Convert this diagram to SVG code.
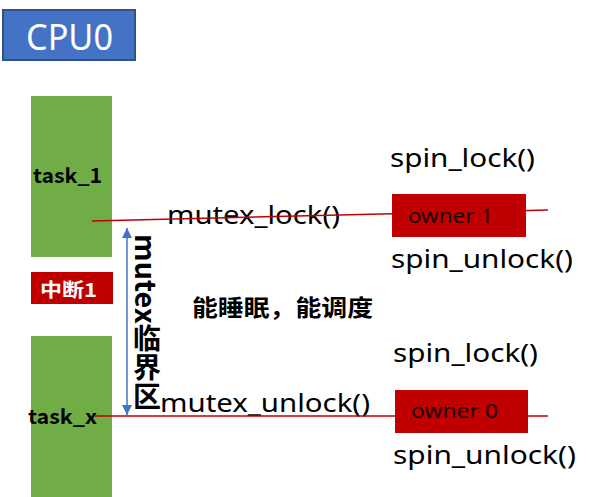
<svg xmlns="http://www.w3.org/2000/svg" width="594" height="497" viewBox="0 0 594 497">
<style>
.task{fill:#70AD47}
.red{fill:#C00000}
.lbl{font-family:"Noto Sans","Liberation Sans",sans-serif;font-size:26px;fill:#000}
.own{font-family:"Noto Sans","Liberation Sans",sans-serif;font-size:20px;fill:#1a0000}
.bold{font-family:"Noto Sans CJK SC","Noto Sans",sans-serif;font-weight:bold;fill:#000}
.rl{stroke:#C00000;stroke-width:1.5;fill:none}
</style>
<defs>
<marker id="ah" viewBox="0 0 10 10" refX="10" refY="5" markerWidth="10" markerHeight="10" markerUnits="userSpaceOnUse" orient="auto-start-reverse">
<path d="M0,0 L10,5 L0,10 z" fill="#4472C4"/>
</marker>
</defs>
<rect width="594" height="497" fill="#fff"/>
<g id="cpu0">
<rect x="3" y="10" width="132" height="50" fill="#4472C4" stroke="#2F528F" stroke-width="2"/>
<text x="26" y="50" font-family="'Noto Sans','Liberation Sans',sans-serif" font-size="37" fill="#fff" textLength="87" lengthAdjust="spacingAndGlyphs">CPU0</text>
</g>
<g id="task_1">
<rect class="task" x="31" y="96" width="81" height="161"/>
<text class="bold" x="33" y="183" font-size="20" textLength="69" lengthAdjust="spacingAndGlyphs">task_1</text>
</g>
<g id="irq1">
<rect class="red" x="31" y="272" width="82" height="32"/>
<text x="40" y="297" font-family="'Noto Sans CJK SC','Noto Sans',sans-serif" font-weight="bold" font-size="19" fill="#fff" textLength="57" lengthAdjust="spacingAndGlyphs">中断1</text>
</g>
<g id="task_x">
<rect class="task" x="31" y="336" width="81" height="161"/>
<text class="bold" x="28" y="424" font-size="20" textLength="69" lengthAdjust="spacingAndGlyphs">task_x</text>
</g>
<g id="labels">
<text class="lbl" x="390" y="167" textLength="145" lengthAdjust="spacingAndGlyphs">spin_lock()</text>
<text class="lbl" x="391" y="268" textLength="182" lengthAdjust="spacingAndGlyphs">spin_unlock()</text>
<text class="lbl" x="167" y="224" textLength="173" lengthAdjust="spacingAndGlyphs">mutex_lock()</text>
<text class="lbl" x="393" y="362" textLength="145" lengthAdjust="spacingAndGlyphs">spin_lock()</text>
<text class="lbl" x="393" y="464" textLength="183" lengthAdjust="spacingAndGlyphs">spin_unlock()</text>
<text class="lbl" x="160" y="412" textLength="210" lengthAdjust="spacingAndGlyphs">mutex_unlock()</text>
<text class="bold" x="192" y="316" font-size="23" textLength="181" lengthAdjust="spacingAndGlyphs">能睡眠，能调度</text>
<text class="bold" x="147" y="234" font-size="28" style="writing-mode:vertical-rl" textLength="176" lengthAdjust="spacingAndGlyphs">mutex临界区</text>
</g>
<g id="connectors">
<line class="rl" x1="92" y1="221" x2="548" y2="210"/>
<line class="rl" x1="95" y1="416" x2="548" y2="416"/>
<line x1="127" y1="228" x2="127" y2="415" stroke="#4472C4" stroke-width="1.5" marker-start="url(#ah)" marker-end="url(#ah)"/>
</g>
<g id="owner1">
<rect class="red" x="392" y="194" width="134" height="43"/>
<text class="own" x="408" y="223" textLength="85" lengthAdjust="spacingAndGlyphs">owner 1</text>
</g>
<g id="owner0">
<rect class="red" x="395" y="390" width="133" height="43"/>
<text class="own" x="411" y="418" textLength="87" lengthAdjust="spacingAndGlyphs">owner 0</text>
</g>
</svg>
